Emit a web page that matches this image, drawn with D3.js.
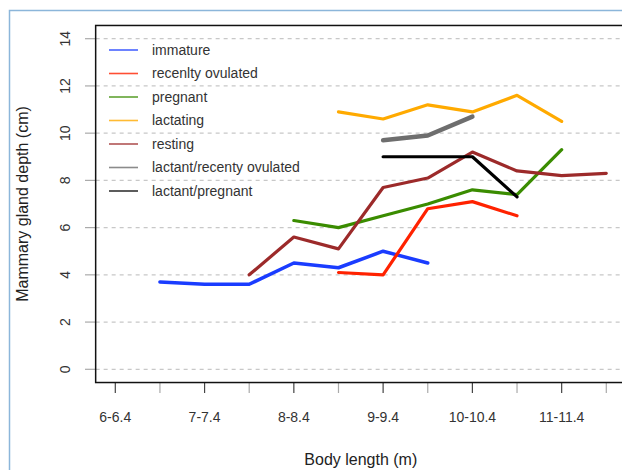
<!DOCTYPE html>
<html lang="en">
<head>
<meta charset="UTF-8">
<title>Mammary gland depth by body length</title>
<script src="https://cdn.jsdelivr.net/npm/d3@7"></script>
<style>
    body { margin: 0; background: #fff; font-family: "Liberation Sans", Arial, sans-serif; }
    svg { display: block; }
    .tick-label { font-size: 14px; fill: #333; }
    .axis-title { font-size: 16px; fill: #222; }
    .legend { font-size: 14px; fill: #333; }
</style>
</head>
<body>
<svg id="chart" width="622" height="470"></svg>
<script>
// body length classes (ticks 1..12); only every other one is labelled
const classes = ["6-6.4", "6.5-6.9", "7-7.4", "7.5-7.9", "8-8.4", "8.5-8.9",
                 "9-9.4", "9.5-9.9", "10-10.4", "10.5-10.9", "11-11.4", "11.5-11.9"];
const yTicks = [0, 2, 4, 6, 8, 10, 12, 14];

// each series: start index (1-based class position) + values
const immature = { start: 2, values: [3.7, 3.6, 3.6, 4.5, 4.3, 5.0, 4.5] };
const recentlyOvulated = { start: 6, values: [4.1, 4.0, 6.8, 7.1, 6.5] };
const pregnant = { start: 5, values: [6.3, 6.0, 6.5, 7.0, 7.6, 7.4, 9.3] };
const lactating = { start: 6, values: [10.9, 10.6, 11.2, 10.9, 11.6, 10.5] };
const resting = { start: 4, values: [4.0, 5.6, 5.1, 7.7, 8.1, 9.2, 8.4, 8.2, 8.3] };
const lactRecOv = { start: 7, values: [9.7, 9.9, 10.7] };
const lactPregnant = { start: 7, values: [9.0, 9.0, 9.0, 7.3] };

const series = [
    { name: "immature", data: immature, color: "#1a3cff", width: 3.5 },
    { name: "recenlty ovulated", data: recentlyOvulated, color: "#ff2200", width: 3.2 },
    { name: "pregnant", data: pregnant, color: "#3a8c00", width: 3.2 },
    { name: "lactating", data: lactating, color: "#ffaa00", width: 3.2 },
    { name: "resting", data: resting, color: "#9c2a2a", width: 3.2 },
    { name: "lactant/recenty ovulated", data: lactRecOv, color: "#6e6e6e", width: 4.5 },
    { name: "lactant/pregnant", data: lactPregnant, color: "#000000", width: 3.2 }
];

const svg = d3.select("#chart");

const x = d3.scaleLinear().domain([1, 12]).range([115.3, 606.3]);
const y = d3.scaleLinear().domain([0, 14]).range([369.3, 38.7]);
const box = { left: x(0.56), right: x(12.44), top: y(14.56), bottom: y(-0.56) };

// outer frame
svg.append("rect")
    .attr("x", 9.5).attr("y", 10.5).attr("width", 640).attr("height", 480)
    .attr("fill", "none").attr("stroke", "#8cb6da").attr("stroke-width", 1.5);

// grid
svg.append("g").selectAll("line").data(yTicks).join("line")
    .attr("x1", box.left).attr("x2", box.right)
    .attr("y1", d => y(d)).attr("y2", d => y(d))
    .attr("stroke", "#c8c8c8").attr("stroke-width", 1.2)
    .attr("stroke-dasharray", "4,4");

// y axis ticks and labels
const yAxis = svg.append("g");
yAxis.selectAll("line").data(yTicks).join("line")
    .attr("x1", 85).attr("x2", box.left)
    .attr("y1", d => y(d)).attr("y2", d => y(d))
    .attr("stroke", "#aaa").attr("stroke-width", 1.2);
yAxis.selectAll("text").data(yTicks).join("text")
    .attr("class", "tick-label")
    .attr("transform", d => `translate(70,${y(d)}) rotate(-90)`)
    .attr("text-anchor", "middle")
    .text(d => d);

// x axis ticks and labels
const xAxis = svg.append("g");
xAxis.selectAll("line").data(classes).join("line")
    .attr("x1", (d, i) => x(i + 1)).attr("x2", (d, i) => x(i + 1))
    .attr("y1", box.bottom).attr("y2", 393)
    .attr("stroke", (d, i) => i % 2 === 0 ? "#444" : "#aaa")
    .attr("stroke-width", 1.2);
xAxis.selectAll("text").data(classes.filter((d, i) => i % 2 === 0)).join("text")
    .attr("class", "tick-label")
    .attr("x", (d, i) => x(i * 2 + 1))
    .attr("y", 422)
    .attr("text-anchor", "middle")
    .text(d => d);

// axis titles
svg.append("text").attr("class", "axis-title")
    .attr("x", (box.left + box.right) / 2).attr("y", 465)
    .attr("text-anchor", "middle")
    .text("Body length (m)");
svg.append("text").attr("class", "axis-title")
    .attr("transform", `translate(28,${(box.top + box.bottom) / 2}) rotate(-90)`)
    .attr("text-anchor", "middle")
    .text("Mammary gland depth (cm)");

// lines
const line = d3.line()
    .x(d => x(d.pos))
    .y(d => y(d.v));

svg.append("g").selectAll("path").data(series).join("path")
    .attr("d", s => line(s.data.values.map((v, i) => ({ pos: s.data.start + i, v: v }))))
    .attr("fill", "none")
    .attr("stroke", s => s.color)
    .attr("stroke-width", s => s.width)
    .attr("stroke-linejoin", "round")
    .attr("stroke-linecap", "round");

// plot box
svg.append("rect")
    .attr("x", box.left).attr("y", box.top)
    .attr("width", box.right - box.left).attr("height", box.bottom - box.top)
    .attr("fill", "none").attr("stroke", "#111").attr("stroke-width", 1.5);

// legend
const legend = svg.append("g").attr("transform", "translate(109,50)");
const rows = legend.selectAll("g").data(series).join("g")
    .attr("transform", (d, i) => `translate(0,${i * 23.5})`);
rows.append("line")
    .attr("x1", 0).attr("x2", 29)
    .attr("stroke", d => d.color).attr("stroke-width", 1.6)
    .attr("stroke-opacity", 0.8);
rows.append("text")
    .attr("class", "legend")
    .attr("x", 43).attr("dy", "0.35em")
    .text(d => d.name);
</script>
</body>
</html>
